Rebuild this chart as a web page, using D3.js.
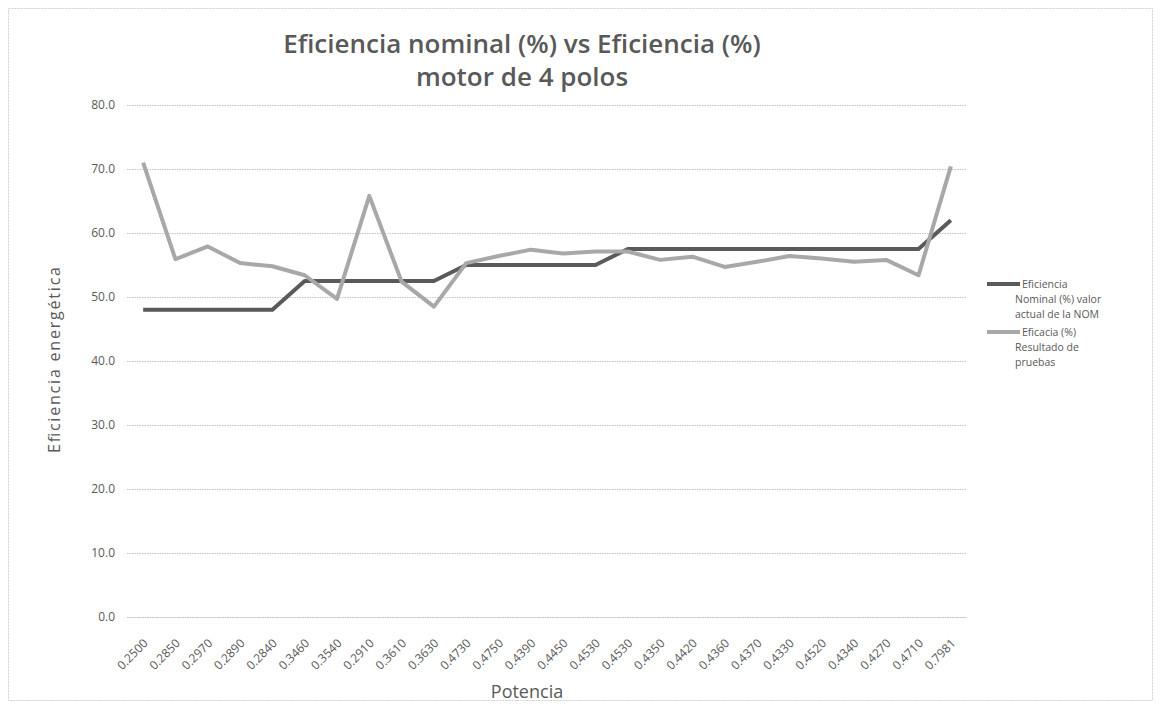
<!DOCTYPE html>
<html>
<head>
<meta charset="utf-8">
<script src="https://cdn.jsdelivr.net/npm/d3@7"></script>
<style>
  html, body { margin: 0; padding: 0; background: #ffffff; }
  svg { display: block; }
  text { font-family: "Open Sans", "Noto Sans", sans-serif; }
</style>
</head>
<body>
<svg id="chart" width="1164" height="711"></svg>
<script>
// Potencia (kW) of each motor tested
const potencia = ["0.2500", "0.2850", "0.2970", "0.2890", "0.2840", "0.3460", "0.3540",
  "0.2910", "0.3610", "0.3630", "0.4730", "0.4750", "0.4390", "0.4450", "0.4530",
  "0.4530", "0.4350", "0.4420", "0.4360", "0.4370", "0.4330", "0.4520", "0.4340",
  "0.4270", "0.4710", "0.7981"];

// Nominal efficiency required by the NOM (%)
const eficienciaNominal = [48.0, 48.0, 48.0, 48.0, 48.0, 52.5, 52.5, 52.5, 52.5, 52.5,
  55.0, 55.0, 55.0, 55.0, 55.0, 57.5, 57.5, 57.5, 57.5, 57.5, 57.5, 57.5, 57.5, 57.5,
  57.5, 62.0];

// Measured efficiency from the tests (%)
const eficaciaPruebas = [71.0, 55.9, 57.9, 55.3, 54.8, 53.4, 49.7, 65.8, 52.4, 48.5,
  55.3, 56.4, 57.4, 56.8, 57.1, 57.1, 55.8, 56.3, 54.7, 55.5, 56.4, 56.0, 55.5, 55.8,
  53.4, 70.4];

const yTicks = [0, 10, 20, 30, 40, 50, 60, 70, 80];

const seriesNames = [
  ["Eficiencia", "Nominal (%) valor", "actual de la NOM"],
  ["Eficacia (%)", "Resultado de", "pruebas"]
];
const seriesColors = ["#5a5a5a", "#a8a8a8"];

const svg = d3.select("#chart");
const margin = { left: 127, right: 1164 - 967, top: 105, bottom: 711 - 617 };

// outer frame of the chart area
svg.append("rect")
  .attr("x", 8.5).attr("y", 8.5).attr("width", 1144).attr("height", 692)
  .attr("fill", "none").attr("stroke", "#d0d0d0").attr("stroke-width", 1)
  .attr("stroke-dasharray", "2,1");

const x = d3.scalePoint()
  .domain(d3.range(potencia.length))
  .range([margin.left, 1164 - margin.right])
  .padding(0.5);

const y = d3.scaleLinear().domain([0, 80]).range([711 - margin.bottom, margin.top]);

// horizontal grid lines
const grid = svg.append("g")
  .attr("transform", `translate(${margin.left},0)`)
  .call(d3.axisLeft(y).tickValues(yTicks).tickSize(-(1164 - margin.right - margin.left)).tickFormat(""));
grid.select(".domain").remove();
grid.selectAll("line")
  .attr("stroke", "#c4c4c4").attr("stroke-width", 1).attr("stroke-dasharray", "1.5,1");

// y tick labels
const yAxis = svg.append("g")
  .attr("transform", `translate(${margin.left},0)`)
  .call(d3.axisLeft(y).tickValues(yTicks).tickSize(0).tickPadding(12).tickFormat(d3.format(".1f")));
yAxis.select(".domain").remove();
yAxis.selectAll("text")
  .attr("fill", "#595959").style("font-size", "12px").style("font-family", "'Open Sans', sans-serif");

// x tick labels, rotated
const xAxis = svg.append("g")
  .attr("transform", `translate(0,${711 - margin.bottom})`)
  .call(d3.axisBottom(x).tickSize(0).tickFormat(i => potencia[i]));
xAxis.select(".domain").attr("stroke", "#c4c4c4").attr("stroke-dasharray", "1.5,1");
xAxis.selectAll("text")
  .attr("fill", "#595959").style("font-size", "12px").style("font-family", "'Open Sans', sans-serif")
  .attr("text-anchor", "end")
  .attr("dy", null).attr("y", 0)
  .attr("transform", "translate(5,27) rotate(-45)");

// series lines
const line = d3.line().x((d, i) => x(i)).y(d => y(d));
[eficienciaNominal, eficaciaPruebas].forEach((vals, k) => {
  svg.append("path")
    .datum(vals)
    .attr("fill", "none")
    .attr("stroke", seriesColors[k])
    .attr("stroke-width", 4)
    .attr("stroke-linejoin", "round")
    .attr("d", line);
});

// legend
const legend = svg.append("g").attr("transform", "translate(987,0)");
const legendTop = [284, 332];
seriesNames.forEach((lines, k) => {
  legend.append("line")
    .attr("x1", 0).attr("x2", 33)
    .attr("y1", legendTop[k]).attr("y2", legendTop[k])
    .attr("stroke", seriesColors[k]).attr("stroke-width", 4);
  const t = legend.append("text")
    .attr("x", 35).attr("y", legendTop[k] + 4)
    .attr("fill", "#595959").style("font-size", "10.5px");
  lines.forEach((s, j) => {
    t.append("tspan").attr("x", j === 0 ? 35 : 28).attr("dy", j === 0 ? 0 : 15).text(s);
  });
});

// title
const title = svg.append("text")
  .attr("x", 522).attr("y", 53)
  .attr("text-anchor", "middle")
  .attr("fill", "#595959")
  .style("font-size", "26px").style("font-weight", "600");
title.append("tspan").attr("x", 522).text("Eficiencia nominal (%) vs Eficiencia (%)");
title.append("tspan").attr("x", 522).attr("dy", 33).text("motor de 4 polos");

// axis titles
svg.append("text")
  .attr("x", 527).attr("y", 698)
  .attr("text-anchor", "middle")
  .attr("fill", "#595959").style("font-size", "18px")
  .text("Potencia");

svg.append("text")
  .attr("transform", "translate(60,360) rotate(-90)")
  .attr("text-anchor", "middle")
  .attr("fill", "#595959").style("font-size", "16px")
  .attr("textLength", 186).attr("lengthAdjust", "spacing")
  .text("Eficiencia energética");
</script>
</body>
</html>
